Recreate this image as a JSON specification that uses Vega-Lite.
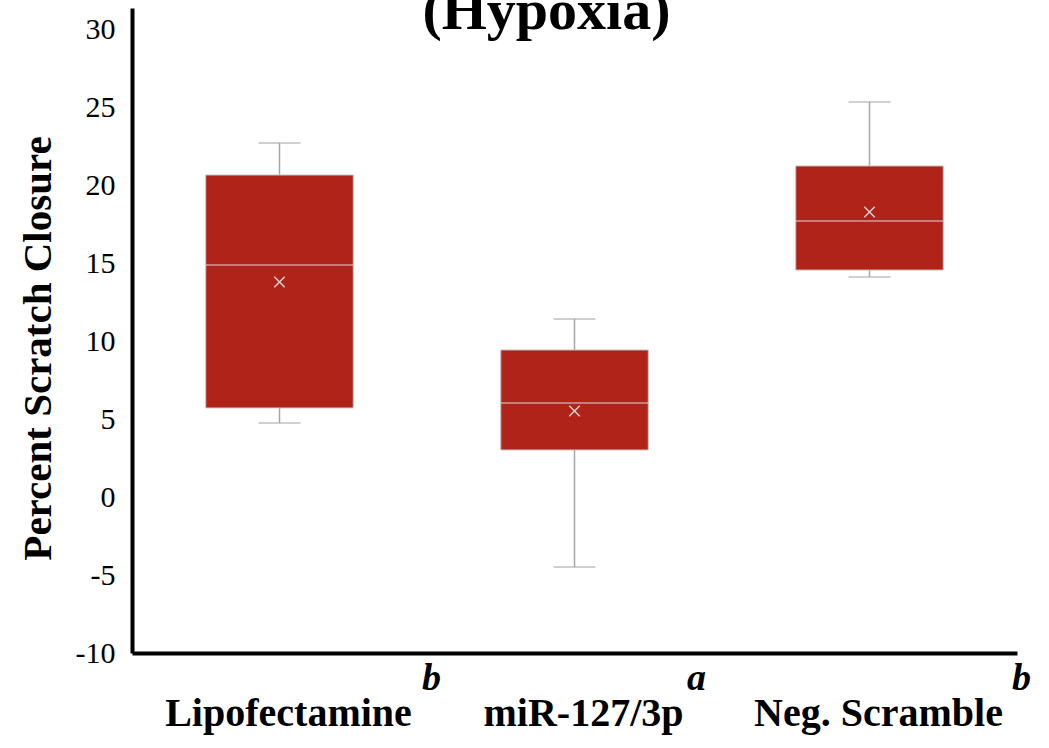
{
  "$schema": "https://vega.github.io/schema/vega-lite/v6.json",
  "width": 885,
  "height": 645,
  "autosize": {"type": "none"},
  "padding": {"left": 132, "top": 8, "right": 32, "bottom": 95},
  "background": "white",
  "title": {
    "text": "(Hypoxia)",
    "font": "Liberation Serif",
    "fontSize": 58,
    "fontWeight": "bold",
    "color": "black",
    "anchor": "middle",
    "dx": -28,
    "offset": -33
  },
  "data": {
    "values": [
      {"group": "Lipofectamine", "lo": 4.76, "q1": 5.73, "median": 14.9, "mean": 13.81, "q3": 20.68, "hi": 22.73, "letter": "b"},
      {"group": "miR-127/3p", "lo": -4.48, "q1": 3.03, "median": 6.05, "mean": 5.53, "q3": 9.45, "hi": 11.44, "letter": "a"},
      {"group": "Neg. Scramble", "lo": 14.13, "q1": 14.58, "median": 17.73, "mean": 18.31, "q3": 21.26, "hi": 25.37, "letter": "b"}
    ]
  },
  "encoding": {
    "x": {
      "field": "group",
      "type": "nominal",
      "sort": null,
      "scale": {"paddingInner": 0.5, "paddingOuter": 0.25},
      "axis": {
        "title": null,
        "labelAngle": 0,
        "labelFont": "Liberation Serif",
        "labelFontSize": 40,
        "labelFontWeight": "bold",
        "labelColor": "black",
        "labelBaseline": "alphabetic",
        "labelPadding": 72,
        "labelOffset": 9,
        "labelLimit": 0,
        "labelOverlap": false,
        "ticks": false,
        "domainColor": "black",
        "domainWidth": 4,
        "grid": false
      }
    }
  },
  "layer": [
    {
      "mark": {"type": "rule", "stroke": "#A6A6A6", "strokeWidth": 1.5},
      "encoding": {
        "y": {
          "field": "lo",
          "type": "quantitative",
          "scale": {"domain": [-10, 31.4], "nice": false, "zero": false},
          "axis": {
            "values": [-10, -5, 0, 5, 10, 15, 20, 25, 30],
            "labelExpr": "toString(datum.value)",
            "title": "Percent Scratch Closure",
            "titleFont": "Liberation Serif",
            "titleFontSize": 41,
            "titleFontWeight": "bold",
            "titleColor": "black",
            "titlePadding": 16,
            "titleY": 340,
            "labelFont": "Liberation Serif",
            "labelFontSize": 30,
            "labelColor": "black",
            "labelPadding": 17,
            "ticks": false,
            "grid": false,
            "domainColor": "black",
            "domainWidth": 4
          }
        },
        "y2": {"field": "hi"}
      }
    },
    {
      "mark": {"type": "tick", "color": "#A6A6A6", "thickness": 1.5, "size": 42},
      "encoding": {"y": {"field": "lo", "type": "quantitative"}}
    },
    {
      "mark": {"type": "tick", "color": "#A6A6A6", "thickness": 1.5, "size": 42},
      "encoding": {"y": {"field": "hi", "type": "quantitative"}}
    },
    {
      "mark": {"type": "bar", "fill": "#AF2318", "stroke": "#C4C4C4", "strokeWidth": 1},
      "encoding": {
        "y": {"field": "q1", "type": "quantitative"},
        "y2": {"field": "q3"}
      }
    },
    {
      "mark": {"type": "tick", "color": "#D6D6D6", "thickness": 1.5, "size": 147},
      "encoding": {"y": {"field": "median", "type": "quantitative"}}
    },
    {
      "mark": {"type": "point", "shape": "M-1,-1L1,1M-1,1L1,-1", "filled": false, "stroke": "#CFCFCF", "strokeWidth": 1.5, "size": 110, "opacity": 1},
      "encoding": {"y": {"field": "mean", "type": "quantitative"}}
    },
    {
      "mark": {
        "type": "text",
        "font": "Liberation Serif",
        "fontSize": 38,
        "fontWeight": "bold",
        "fontStyle": "italic",
        "color": "black",
        "align": "center",
        "baseline": "alphabetic",
        "dx": {"expr": "10 * length(datum.group) + 22"}
      },
      "encoding": {
        "y": {"datum": -12.4, "type": "quantitative"},
        "text": {"field": "letter"}
      }
    }
  ],
  "config": {
    "view": {"stroke": null}
  }
}
